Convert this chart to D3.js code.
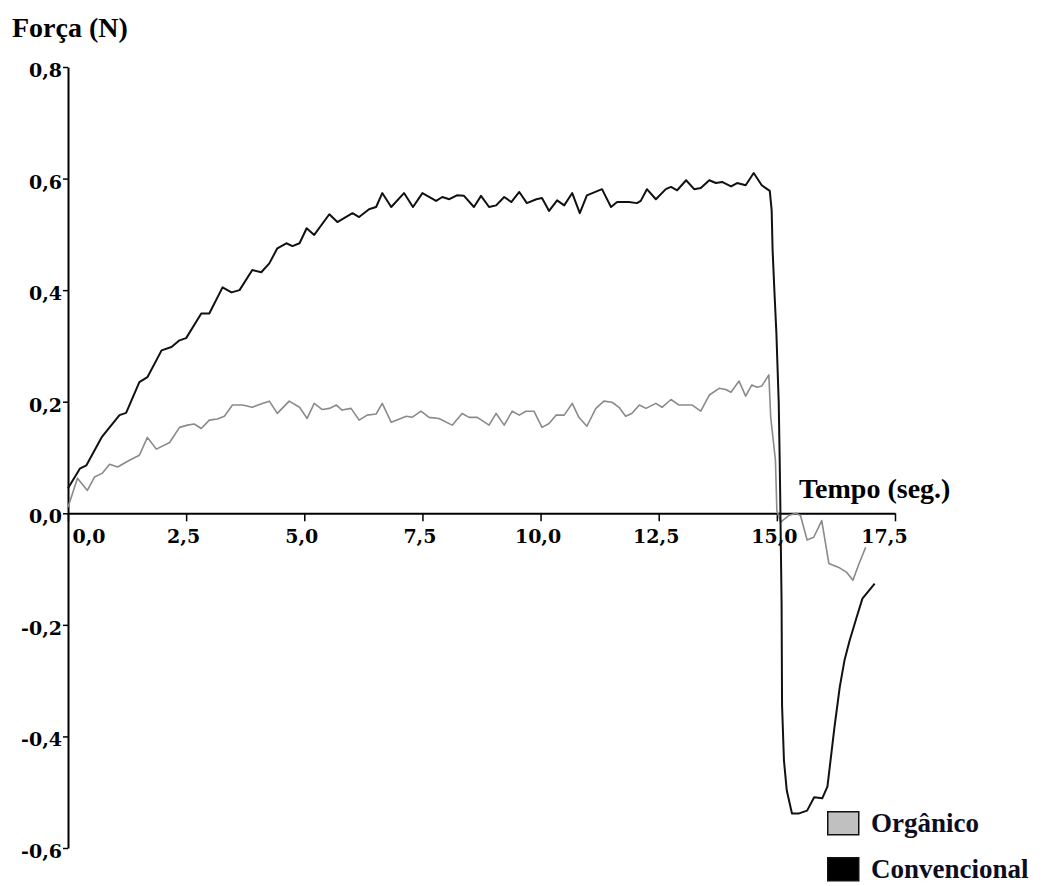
<!DOCTYPE html>
<html>
<head>
<meta charset="utf-8">
<script src="https://cdn.jsdelivr.net/npm/d3@7"></script>
<style>
  html, body { margin: 0; padding: 0; background: #fff; }
  svg { display: block; }
</style>
</head>
<body>
<svg id="chart" width="1042" height="886"></svg>
<script>
// Força x tempo – ensaio de textura
const xTicks = [0, 2.5, 5, 7.5, 10, 12.5, 15, 17.5];
const yTicks = [0.8, 0.6, 0.4, 0.2, 0, -0.2, -0.4, -0.6];

// Convencional
const timeConv = [0, 0.25, 0.39, 0.71, 0.88, 1.09, 1.23, 1.51, 1.68, 1.98, 2.19, 2.36, 2.5, 2.82, 2.99,
  3.27, 3.46, 3.63, 3.9, 4.09, 4.26, 4.43, 4.62, 4.75, 4.9, 5.05, 5.21, 5.53, 5.7, 6.02, 6.16, 6.37,
  6.52, 6.65, 6.84, 7.11, 7.3, 7.5, 7.79, 7.92, 8.07, 8.23, 8.38, 8.59, 8.74, 8.91, 9.06, 9.23, 9.38,
  9.55, 9.71, 9.91, 10.03, 10.18, 10.35, 10.5, 10.67, 10.83, 10.98, 11.3, 11.49, 11.62, 11.87, 12.04,
  12.12, 12.25, 12.44, 12.65, 12.76, 12.89, 13.08, 13.25, 13.39, 13.57, 13.71, 13.84, 14.03, 14.16,
  14.34, 14.51, 14.68, 14.85, 14.89, 14.91, 14.95, 14.99, 15.04, 15.06, 15.07, 15.1, 15.11, 15.15,
  15.21, 15.32, 15.47, 15.64, 15.79, 15.96, 16.07, 16.22, 16.33, 16.43, 16.54, 16.69, 16.81, 17.07];
const forceConv = [0.045, 0.08, 0.086, 0.136, 0.154, 0.176, 0.18, 0.235, 0.244, 0.292, 0.298, 0.31, 0.314,
  0.358, 0.358, 0.405, 0.396, 0.4, 0.436, 0.432, 0.448, 0.475, 0.484, 0.479, 0.484, 0.511, 0.499, 0.536,
  0.522, 0.538, 0.531, 0.545, 0.549, 0.574, 0.549, 0.574, 0.549, 0.574, 0.56, 0.567, 0.563, 0.57, 0.569,
  0.549, 0.569, 0.549, 0.552, 0.567, 0.558, 0.576, 0.556, 0.563, 0.565, 0.542, 0.561, 0.552, 0.574,
  0.538, 0.57, 0.581, 0.549, 0.558, 0.558, 0.556, 0.56, 0.581, 0.563, 0.581, 0.585, 0.579, 0.597,
  0.581, 0.583, 0.597, 0.592, 0.594, 0.586, 0.592, 0.588, 0.61, 0.588, 0.578, 0.543, 0.472, 0.395,
  0.323, 0.197, 0.095, 0.036, -0.16, -0.344, -0.443, -0.497, -0.538, -0.538, -0.533, -0.509, -0.511,
  -0.49, -0.383, -0.312, -0.264, -0.228, -0.186, -0.153, -0.126];

// Orgânico
const timeOrg = [0, 0.2, 0.41, 0.56, 0.73, 0.88, 1.05, 1.3, 1.51, 1.68, 1.87, 2.15, 2.36, 2.53, 2.67, 2.82,
  2.99, 3.16, 3.31, 3.48, 3.69, 3.9, 4.05, 4.26, 4.43, 4.68, 4.9, 5.06, 5.21, 5.38, 5.53, 5.68, 5.8, 5.99,
  6.16, 6.33, 6.52, 6.65, 6.84, 7.16, 7.28, 7.47, 7.64, 7.85, 8.13, 8.34, 8.49, 8.66, 8.91, 9.06, 9.23,
  9.4, 9.55, 9.69, 9.86, 10.03, 10.18, 10.33, 10.5, 10.67, 10.81, 10.98, 11.17, 11.34, 11.51, 11.66,
  11.8, 11.93, 12.09, 12.23, 12.44, 12.57, 12.76, 12.93, 13.21, 13.39, 13.57, 13.78, 13.92, 14.03,
  14.2, 14.34, 14.47, 14.58, 14.68, 14.83, 14.87, 14.93, 14.97, 15.0, 15.08, 15.25, 15.4, 15.5, 15.64,
  15.78, 15.95, 16.1, 16.31, 16.48, 16.61, 16.74, 16.88];
const forceOrg = [0.011, 0.063, 0.041, 0.065, 0.072, 0.088, 0.083, 0.095, 0.104, 0.136, 0.115, 0.127,
  0.154, 0.158, 0.16, 0.152, 0.167, 0.169, 0.174, 0.194, 0.194, 0.19, 0.195, 0.201, 0.179, 0.201, 0.19,
  0.17, 0.197, 0.186, 0.188, 0.194, 0.185, 0.188, 0.167, 0.176, 0.178, 0.197, 0.163, 0.174, 0.172,
  0.183, 0.172, 0.17, 0.158, 0.179, 0.172, 0.172, 0.158, 0.179, 0.158, 0.183, 0.176, 0.183, 0.183,
  0.154, 0.161, 0.176, 0.176, 0.197, 0.172, 0.156, 0.188, 0.201, 0.199, 0.19, 0.174, 0.179, 0.194,
  0.188, 0.197, 0.19, 0.204, 0.194, 0.194, 0.183, 0.212, 0.224, 0.222, 0.217, 0.237, 0.21, 0.23,
  0.226, 0.228, 0.248, 0.172, 0.126, 0.095, 0.005, -0.016, -0.004, 0.0, -0.004, -0.048, -0.043,
  -0.013, -0.09, -0.097, -0.106, -0.12, -0.09, -0.061];

const legendItems = [
  { label: "Orgânico", fill: "#c0c0c0" },
  { label: "Convencional", fill: "#000000" }
];

const svg = d3.select("#chart");
svg.append("rect").attr("width", 1042).attr("height", 886).attr("fill", "#fff");

const x = d3.scaleLinear().domain([0, 17.5]).range([68, 895]);
const y = d3.scaleLinear().domain([-0.6, 0.8]).range([848, 67]);

const fmt = v => d3.format(".1f")(v).replace(".", ",").replace("−", "-");
const tickFont = "'DejaVu Serif', serif";
const titleFont = "'Liberation Serif', 'Times New Roman', serif";

// Y axis
const yAxis = svg.append("g").attr("transform", `translate(${x(0)},0)`)
  .call(d3.axisLeft(y).tickValues(yTicks).tickSize(5).tickSizeOuter(0).tickFormat(fmt));
yAxis.select(".domain").attr("stroke", "#000").attr("stroke-width", 2);
yAxis.selectAll(".tick line").attr("stroke", "#000").attr("stroke-width", 1.5);
yAxis.selectAll(".tick text")
  .attr("x", -6).attr("dy", "0.5em")
  .attr("font-family", tickFont).attr("font-weight", "bold").attr("font-size", 19)
  .attr("fill", "#000");

// X axis on zero line
const xAxis = svg.append("g").attr("transform", `translate(0,${y(0)})`)
  .call(d3.axisBottom(x).tickValues(xTicks).tickSize(8).tickSizeOuter(0).tickFormat(fmt));
xAxis.select(".domain").attr("stroke", "#000").attr("stroke-width", 2);
xAxis.selectAll(".tick line").attr("stroke", "#000").attr("stroke-width", 1.5);
xAxis.selectAll(".tick text")
  .attr("y", 30).attr("dy", 0)
  .attr("font-family", tickFont).attr("font-weight", "bold").attr("font-size", 19)
  .attr("fill", "#000")
  .attr("text-anchor", (d, i) => i === 0 ? "start" : "middle")
  .attr("dx", (d, i) => i === 0 ? 4 : (i === xTicks.length - 1 ? -11 : -3));

// Series lines
const line = d3.line().x(d => x(d[0])).y(d => y(d[1]));
const orgData = d3.zip(timeOrg, forceOrg);
const convData = d3.zip(timeConv, forceConv);

svg.append("path").datum(orgData)
  .attr("d", line).attr("fill", "none")
  .attr("stroke", "#8a8a8a").attr("stroke-width", 1.6).attr("stroke-linejoin", "round");

svg.append("path").datum(convData)
  .attr("d", line).attr("fill", "none")
  .attr("stroke", "#111").attr("stroke-width", 2).attr("stroke-linejoin", "round");

// Axis titles
svg.append("text").attr("x", 12).attr("y", 37)
  .attr("font-family", titleFont).attr("font-weight", "bold").attr("font-size", 28)
  .attr("fill", "#000").text("Força (N)");
svg.append("text").attr("x", 799).attr("y", 498)
  .attr("font-family", titleFont).attr("font-weight", "bold").attr("font-size", 28)
  .attr("fill", "#000").text("Tempo (seg.)");

// Legend
const legend = svg.append("g").attr("transform", "translate(827,811)");
const item = legend.selectAll("g").data(legendItems).join("g")
  .attr("transform", (d, i) => `translate(0,${i * 46})`);
item.append("rect").attr("x", 0.75).attr("y", 0.75).attr("width", 31).attr("height", 23)
  .attr("fill", d => d.fill).attr("stroke", "#111").attr("stroke-width", 1.5);
item.append("text").attr("x", 44).attr("y", 21)
  .attr("font-family", titleFont).attr("font-weight", "bold").attr("font-size", 27)
  .attr("fill", "#0d0d1f").text(d => d.label);
</script>
</body>
</html>
